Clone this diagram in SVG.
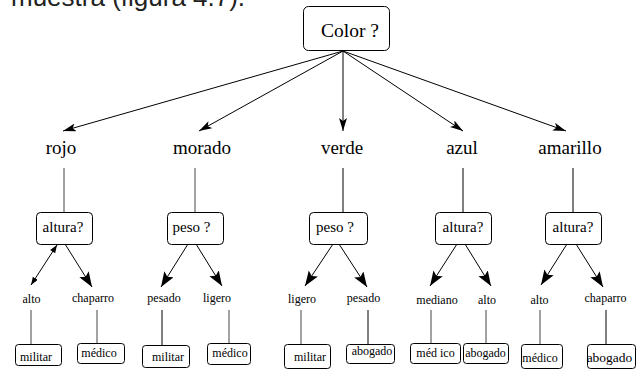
<svg xmlns="http://www.w3.org/2000/svg" width="644" height="370" viewBox="0 0 644 370">
<defs>
<style>
.box{fill:#fff;stroke:#000;stroke-width:1}
.t{font-family:'Liberation Serif','Times New Roman','DejaVu Serif',serif;fill:#000;text-anchor:middle}
.t1{font-size:19px}
.t2{font-size:15px}
.t3{font-size:12px}
.t4{font-size:12px}
.ln{stroke:#000;stroke-width:1;fill:none}
.vl{stroke:#444;stroke-width:1;fill:none}
.a1{marker-end:url(#mTop)}
.a2{marker-end:url(#mBig)}
.a3{marker-end:url(#mSm);marker-start:url(#mSmS)}
</style>
<marker id="mTop" markerUnits="userSpaceOnUse" markerWidth="14" markerHeight="10" refX="13" refY="4" orient="auto">
<path d="M0,0 L13,4 L0,8 L3,4 z" fill="#000"/>
</marker>
<marker id="mBig" markerUnits="userSpaceOnUse" markerWidth="16" markerHeight="12" refX="15" refY="5.5" orient="auto">
<path d="M0,0 L15,5.5 L0,11 L3,5.5 z" fill="#000"/>
</marker>
<marker id="mSm" markerUnits="userSpaceOnUse" markerWidth="9" markerHeight="7" refX="8" refY="3" orient="auto">
<path d="M0,0 L8,3 L0,6 z" fill="#000"/>
</marker>
<marker id="mSmS" markerUnits="userSpaceOnUse" markerWidth="9" markerHeight="7" refX="0" refY="3" orient="auto">
<path d="M8,0 L0,3 L8,6 z" fill="#000"/>
</marker>
</defs>
<rect width="644" height="370" fill="#fff"/>
<text x="11" y="6" font-family="Liberation Sans, Arial, sans-serif" font-size="26" fill="#222">muestra (figura 4.7).</text>

<g id="connectors">
<line class="ln a1" x1="343" y1="51" x2="63" y2="131"/>
<line class="ln a1" x1="343" y1="51" x2="199" y2="131"/>
<line class="ln a1" x1="343" y1="51" x2="343" y2="131"/>
<line class="ln a1" x1="343" y1="51" x2="463" y2="131"/>
<line class="ln a1" x1="343" y1="51" x2="566" y2="131"/>
<line class="vl" x1="64" y1="168" x2="64" y2="212"/>
<line class="vl" x1="195" y1="168" x2="195" y2="212"/>
<line class="ln" x1="343" y1="168" x2="343" y2="212"/>
<line class="ln" x1="463" y1="168" x2="463" y2="212"/>
<line class="ln" x1="573" y1="168" x2="573" y2="212"/>
<line class="ln a3" x1="57" y1="245" x2="31" y2="285"/>
<line class="ln a2" x1="65" y1="244" x2="92" y2="287"/>
<line class="ln a2" x1="188" y1="244" x2="161" y2="287"/>
<line class="ln a2" x1="196" y1="244" x2="222" y2="286"/>
<line class="ln a2" x1="333" y1="244" x2="305" y2="286"/>
<line class="ln a2" x1="339" y1="244" x2="367" y2="287"/>
<line class="ln a2" x1="457" y1="244" x2="430" y2="286"/>
<line class="ln a2" x1="465" y1="244" x2="491" y2="286"/>
<line class="ln a2" x1="567" y1="244" x2="541" y2="285"/>
<line class="ln a2" x1="576" y1="244" x2="603" y2="287"/>
<line class="vl" x1="31" y1="310" x2="31" y2="344"/>
<line class="vl" x1="97" y1="310" x2="97" y2="343"/>
<line class="ln" x1="162" y1="310" x2="162" y2="345"/>
<line class="vl" x1="229" y1="310" x2="229" y2="343"/>
<line class="vl" x1="301" y1="310" x2="301" y2="344"/>
<line class="ln" x1="368" y1="310" x2="368" y2="344"/>
<line class="vl" x1="431" y1="310" x2="431" y2="343"/>
<line class="vl" x1="486" y1="310" x2="486" y2="343"/>
<line class="vl" x1="540" y1="310" x2="540" y2="344"/>
<line class="ln" x1="606" y1="310" x2="606" y2="344"/>
</g>

<g font-family="Liberation Serif, Times New Roman, DejaVu Serif, serif">
<g id="n-color"><rect class="box" x="303.5" y="6.5" width="86" height="44" rx="5"/><text class="t" x="350" y="37" font-size="19.5">Color ?</text></g>

<g id="n-rojo"><text class="t t1" x="61" y="154">rojo</text></g>
<g id="n-morado"><text class="t t1" x="202" y="154">morado</text></g>
<g id="n-verde"><text class="t t1" x="342" y="154">verde</text></g>
<g id="n-azul"><text class="t t1" x="462" y="154">azul</text></g>
<g id="n-amarillo"><text class="t t1" x="570" y="154">amarillo</text></g>

<g id="n-altura1"><rect class="box" x="36.5" y="212.5" width="56" height="32" rx="4"/><text class="t t2" x="63" y="232">altura?</text></g>
<g id="n-peso1"><rect class="box" x="167.5" y="212.5" width="56" height="32" rx="4"/><text class="t t2" x="191.5" y="232">peso ?</text></g>
<g id="n-peso2"><rect class="box" x="309.5" y="212.5" width="58" height="32" rx="4"/><text class="t t2" x="335" y="232">peso ?</text></g>
<g id="n-altura2"><rect class="box" x="435.5" y="212.5" width="56" height="32" rx="4"/><text class="t t2" x="463" y="232">altura?</text></g>
<g id="n-altura3"><rect class="box" x="545.5" y="212.5" width="56" height="32" rx="4"/><text class="t t2" x="573" y="232">altura?</text></g>

<g id="n-alto1"><text class="t t3" x="31.5" y="303">alto</text></g>
<g id="n-chaparro1"><text class="t t3" x="93" y="302">chaparro</text></g>
<g id="n-pesado1"><text class="t t3" x="164" y="302">pesado</text></g>
<g id="n-ligero1"><text class="t t3" x="217" y="302">ligero</text></g>
<g id="n-ligero2"><text class="t t3" x="302" y="303">ligero</text></g>
<g id="n-pesado2"><text class="t t3" x="363.5" y="302">pesado</text></g>
<g id="n-mediano"><text class="t t3" x="437" y="304">mediano</text></g>
<g id="n-alto2"><text class="t t3" x="487" y="304">alto</text></g>
<g id="n-alto3"><text class="t t3" x="539.5" y="304">alto</text></g>
<g id="n-chaparro2"><text class="t t3" x="605.5" y="302">chaparro</text></g>

<g id="n-militar1"><rect class="box" x="15.5" y="344.5" width="46" height="21" rx="3"/><text class="t t4" x="36" y="361">militar</text></g>
<g id="n-medico1"><rect class="box" x="77.5" y="343.5" width="47" height="20" rx="3"/><text class="t t4" x="99" y="357">médico</text></g>
<g id="n-militar2"><rect class="box" x="142.5" y="345.5" width="47" height="22" rx="3"/><text class="t t4" x="168" y="361">militar</text></g>
<g id="n-medico2"><rect class="box" x="207.5" y="343.5" width="43" height="21" rx="3"/><text class="t t4" x="230" y="357">médico</text></g>
<g id="n-militar3"><rect class="box" x="284.5" y="344.5" width="46" height="24" rx="3"/><text class="t t4" x="310" y="361">militar</text></g>
<g id="n-abogado1"><rect class="box" x="346.5" y="344.5" width="48" height="19" rx="3"/><text class="t t4" x="372" y="355">abogado</text></g>
<g id="n-medico3"><rect class="box" x="410.5" y="343.5" width="50" height="20" rx="3"/><text class="t t4" x="435.5" y="357">méd ico</text></g>
<g id="n-abogado2"><rect class="box" x="463.5" y="343.5" width="45" height="20" rx="3"/><text class="t t4" x="485.5" y="357">abogado</text></g>
<g id="n-medico4"><rect class="box" x="521.5" y="344.5" width="41" height="24" rx="3"/><text class="t t4" x="540" y="362">médico</text></g>
<g id="n-abogado3"><rect class="box" x="587.5" y="344.5" width="48" height="24" rx="3"/><text class="t" x="609.5" y="362" font-size="13.5">abogado</text></g>
</g>
</svg>
